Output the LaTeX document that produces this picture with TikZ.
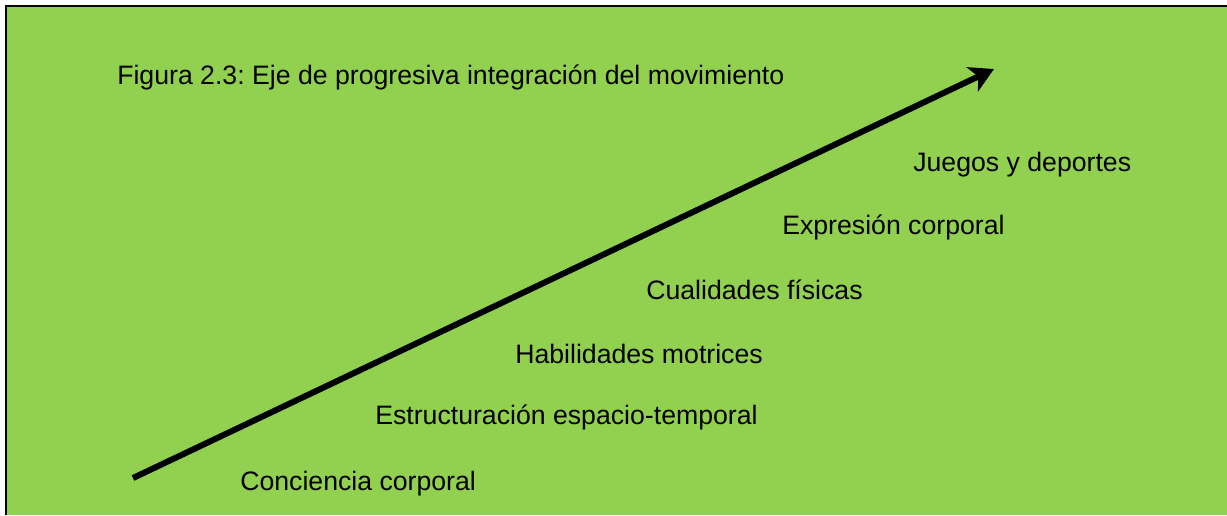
\documentclass[tikz,border=0pt]{standalone}
\usepackage{fontspec}
\setmainfont{Liberation Sans}
\usetikzlibrary{arrows.meta}
\definecolor{bggreen}{HTML}{92D050}
\tikzset{
  lbl/.style={anchor=base west, inner sep=0pt, font=\fontsize{20}{24}\selectfont\frenchspacing, text=black},
  axis/.style={line width=4.5pt, -{Stealth[length=18pt, width=20pt, inset=5pt]}}
}
\begin{document}
\begin{tikzpicture}[x={(0.75pt,0)}, y={(0,-0.75pt)}]
\useasboundingbox (0,0) rectangle (1227,515);
\fill[white] (0,0) rectangle (1227,515);
\fill[bggreen] (6,6) rectangle (1227,515);
\draw[line width=1.6pt] (6,515) -- (6,6) -- (1227,6);
\node[lbl] (title) at (117,84) {Figura 2.3: Eje de progresiva integración del movimiento};
\node[lbl] (l6) at (913,171) {Juegos y deportes};
\node[lbl] (l5) at (782,234) {Expresión corporal};
\node[lbl] (l4) at (646,299) {Cualidades físicas};
\node[lbl] (l3) at (515,363) {Habilidades motrices};
\node[lbl] (l2) at (375,424) {Estructuración espacio-temporal};
\node[lbl] (l1) at (240,490) {Conciencia corporal};
\coordinate (start) at (133,478);
\coordinate (tip) at (994,69);
\draw[axis] (start) -- (tip);
\end{tikzpicture}
\end{document}
